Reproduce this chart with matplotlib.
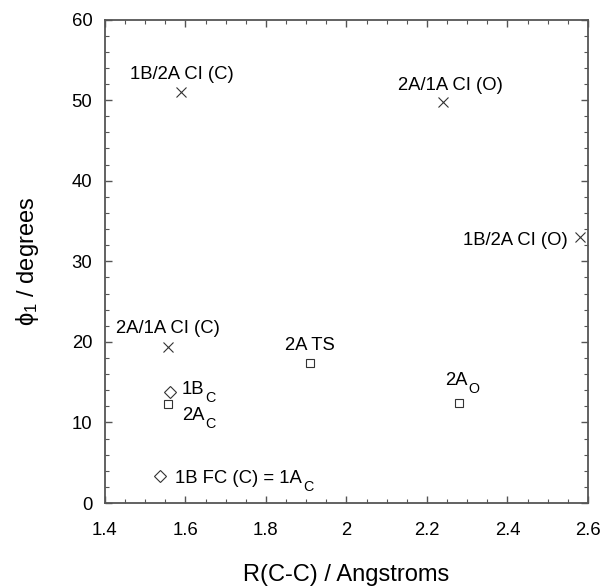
import numpy as np
import matplotlib
matplotlib.use('Agg')
import matplotlib.pyplot as plt
from matplotlib.ticker import MultipleLocator

plt.rcParams['font.family'] = ['Liberation Sans', 'DejaVu Sans']
plt.rcParams['mathtext.fontset'] = 'custom'
plt.rcParams['mathtext.rm'] = 'Liberation Sans'
plt.rcParams['mathtext.it'] = 'Liberation Sans'
plt.rcParams['mathtext.bf'] = 'Liberation Sans:bold'

# points: R(C-C) in Angstrom, phi_1 in degrees
names = ['1B/2A CI (C)', '2A/1A CI (O)', '1B/2A CI (O)', '2A/1A CI (C)',
         '2A TS', '2A', '1B', '2A', '1B FC (C) = 1A']
subs = ['', '', '', '', '', 'O', 'C', 'C', 'C']
r_cc = [1.59, 2.24, 2.58, 1.556, 1.909, 2.28, 1.561, 1.556, 1.537]
phi1 = [51.0, 49.8, 33.0, 19.4, 17.4, 12.4, 13.8, 12.3, 3.3]
kind = ['x', 'x', 'x', 'x', 's', 's', 'D', 's', 'D']

# label placement (pixels from the marker), alignment
offsets = [(0, 13), (7, 12), (-12, -8), (0, 14), (0, 13), (-3, 18),
           (12, -2), (14, -16), (15, -7)]
halign = ['center', 'center', 'right', 'center', 'center', 'center',
          'left', 'left', 'left']

fig = plt.figure(figsize=(6.03, 5.86), dpi=100)
ax = fig.add_axes([0.174, 0.1416, 0.801, 0.825])

msize = {'x': 6.5, 's': 5.5, 'D': 6}
for xv, yv, m in zip(r_cc, phi1, kind):
    ax.plot(xv, yv, marker=m, ms=msize[m], mfc='none', mec='#333333',
            mew=0.8, ls='none')

ax.set_xlim(1.4, 2.6)
ax.set_ylim(0, 60)

labels = []
for name, xv, yv, off, ha in zip(names, r_cc, phi1, offsets, halign):
    t = ax.annotate(name, (xv, yv), xytext=off, textcoords='offset pixels',
                    ha=ha, va='baseline', fontsize=13.3)
    labels.append(t)

# subscripts drawn after the main text, lowered like the original
fig.canvas.draw()
rend = fig.canvas.get_renderer()
for t, sub in zip(labels, subs):
    if not sub:
        continue
    bb = t.get_window_extent(rend)
    disp = ax.transData.transform(t.xy)
    oy = t.xyann[1]
    ax.annotate(sub, xy=(bb.x1 + 1, disp[1] + oy - 8), xycoords='figure pixels',
                ha='left', va='baseline', fontsize=10.3)

ax.xaxis.set_minor_locator(MultipleLocator(0.05))
ax.yaxis.set_major_locator(MultipleLocator(10))
ax.yaxis.set_minor_locator(MultipleLocator(2))
ax.set_xticks([1.4, 1.6, 1.8, 2.0, 2.2, 2.4, 2.6])
ax.set_xticklabels(['1.4', '1.6', '1.8', '2', '2.2', '2.4', '2.6'])

for s in ax.spines.values():
    s.set_color('#555555')
    s.set_linewidth(1.3)
ax.tick_params(which='both', direction='in', top=True, right=True,
               color='#555555', labelsize=13.3)
ax.tick_params(which='major', length=5, width=1.0, pad=14)
ax.tick_params(which='minor', length=3, width=0.8)
ax.tick_params(axis='y', which='major', pad=9)

ax.set_xlabel('R(C-C) / Angstroms', fontsize=17, labelpad=18)
ax.set_ylabel(r'$\phi_1$ / degrees', fontsize=17, labelpad=22)

plt.savefig('out.png', dpi=100)
